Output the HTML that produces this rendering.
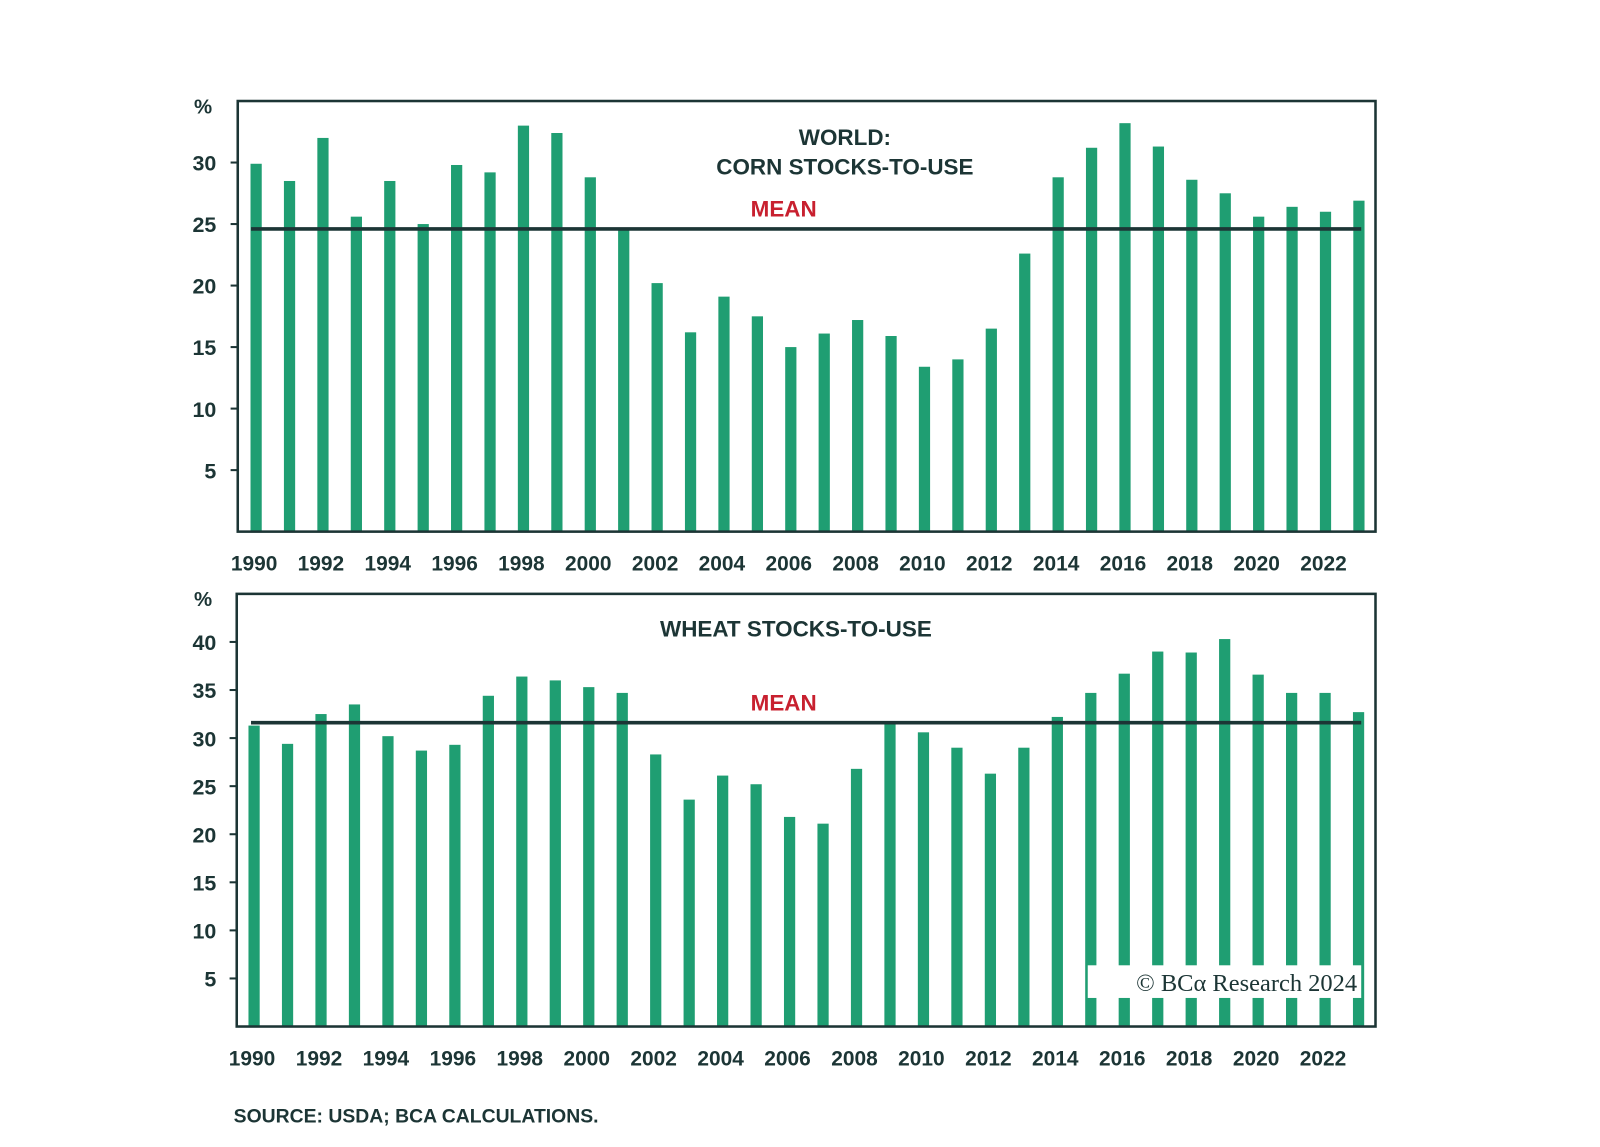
<!DOCTYPE html>
<html><head><meta charset="utf-8"><style>
body{margin:0;background:#fff;}
svg{display:block;font-family:"Liberation Sans",sans-serif;}
</style></head><body>
<svg width="1600" height="1147"><g id="c" transform="scale(1.0204)"></g></svg>
<script>
const years=[];for(let y=1990;y<=2023;y++)years.push(y);
const cornValues=[29.9,28.5,32,25.6,28.5,25,29.8,29.2,33,32.4,28.8,24.5,20.2,16.2,19.1,17.5,15,16.1,17.2,15.9,13.4,14,16.5,22.6,28.8,31.2,33.2,31.3,28.6,27.5,25.6,26.4,26,26.9];
const cornMean=24.6;
const wheatValues=[31.3,29.4,32.5,33.5,30.2,28.7,29.3,34.4,36.4,36,35.3,34.7,28.3,23.6,26.1,25.2,21.8,21.1,26.8,31.5,30.6,29,26.3,29,32.2,34.7,36.7,39,38.9,40.3,36.6,34.7,34.7,32.7];
const wheatMean=31.6;
const cornTicks=[5,10,15,20,25,30];
const wheatTicks=[5,10,15,20,25,30,35,40];
const NS="http://www.w3.org/2000/svg";
const svg=document.getElementById('c');
function mk(t,a,txt){const e=document.createElementNS(NS,t);for(const k in a)e.setAttribute(k,a[k]);if(txt!=null)e.textContent=txt;svg.appendChild(e);return e;}
function panel(p){
 const y=v=>p.y0-(v/p.max)*(p.y0-p.yt);
 const x=i=>p.x0+i*p.step;
 p.vals.forEach((v,i)=>{const r=mk('rect',{x:x(i)-5.5,y:y(v),width:11,height:p.y0-y(v),fill:'#1f9e72'});
  
  });
 const m=mk('line',{x1:p.mx1,x2:p.mx2,y1:y(p.mean),y2:y(p.mean),stroke:'#1c3535','stroke-width':3.5});
 
 const mt=mk('text',{x:768,y:y(p.mean)-12,'text-anchor':'middle','font-size':22,'font-weight':'bold',fill:'#c8202f'},'MEAN');
 
 const b=mk('rect',{x:p.bx,y:p.yt,width:1348-p.bx,height:p.y0-p.yt,fill:'none',stroke:'#1c3535','stroke-width':2.5});
 
 p.ticks.forEach(t=>{const l=mk('line',{x1:p.bx-7,x2:p.bx,y1:y(t),y2:y(t),stroke:'#1c3535','stroke-width':2});
  
  const tx=mk('text',{x:212,y:y(t)+8,'text-anchor':'end','font-size':21,'font-weight':'bold',fill:'#1c3535'},String(t));
  });
 const pc=mk('text',{x:199,y:p.yt+12,'text-anchor':'middle','font-size':20,'font-weight':'bold',fill:'#1c3535'},'%');
 
 years.forEach((yr,i)=>{if(yr%2)return;const tx=mk('text',{x:x(i)-2,y:p.lab,'text-anchor':'middle','font-size':20.5,'font-weight':'bold',fill:'#1c3535'},String(yr));
  });
}
panel({id:'corn',vals:cornValues,mean:cornMean,ticks:cornTicks,max:35,y0:521,yt:99,bx:233,x0:251,step:32.75,mx1:246,mx2:1334,lab:559});
panel({id:'wheat',vals:wheatValues,mean:wheatMean,ticks:wheatTicks,max:45,y0:1006,yt:582,bx:232,x0:249,step:32.8,mx1:246,mx2:1334,lab:1044});
let t=mk('text',{x:828,y:142,'text-anchor':'middle','font-size':22,'font-weight':'bold',fill:'#1c3535'},'WORLD:');

t=mk('text',{x:828,y:171,'text-anchor':'middle','font-size':22,'font-weight':'bold',fill:'#1c3535'},'CORN STOCKS-TO-USE');

t=mk('text',{x:780,y:624,'text-anchor':'middle','font-size':22,'font-weight':'bold',fill:'#1c3535'},'WHEAT STOCKS-TO-USE');

t=mk('rect',{x:1066,y:946,width:268,height:32,fill:'#fff'});

t=mk('text',{x:1330,y:971,'text-anchor':'end','font-size':24,'font-family':'Liberation Serif, serif',fill:'#1c3535'},'© BCα Research 2024');

t=mk('text',{x:229,y:1100,'font-size':19,'font-weight':'bold',fill:'#1c3535'},'SOURCE: USDA; BCA CALCULATIONS.');

</script>
</body></html>
